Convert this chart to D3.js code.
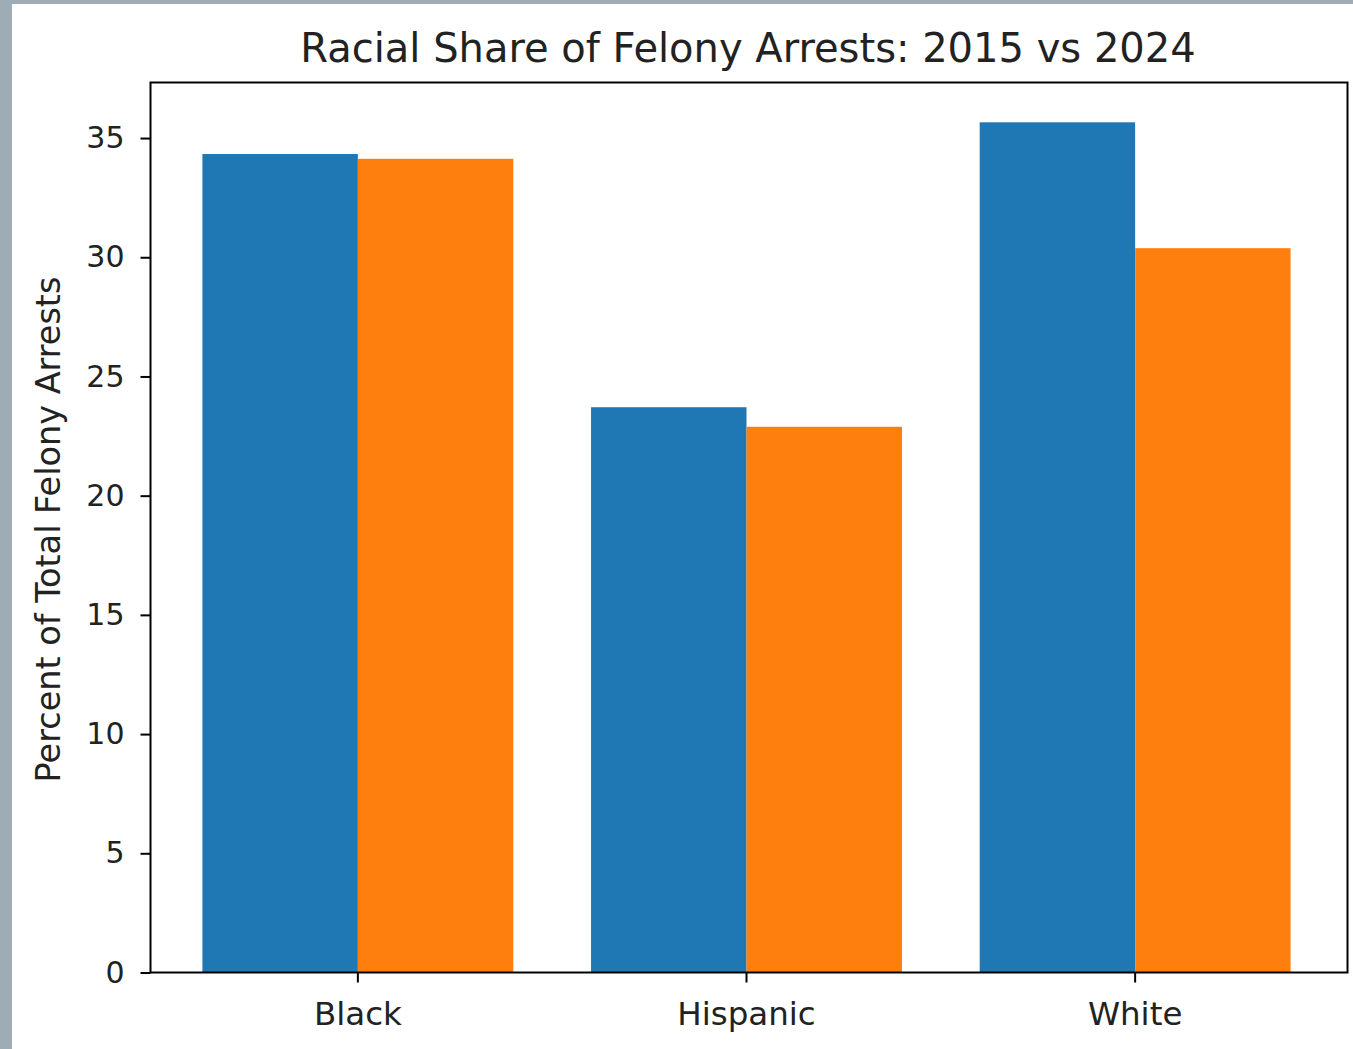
<!DOCTYPE html>
<html>
<head>
<meta charset="utf-8">
<script src="https://cdn.jsdelivr.net/npm/d3@7"></script>
<style>
  html, body { margin: 0; padding: 0; background: #9eadb5; }
  svg { display: block; }
</style>
</head>
<body>
<script>
const categories = ["Black", "Hispanic", "White"];
const seriesNames = ["2015", "2024"];
const values2015 = [34.33, 23.71, 35.66];
const values2024 = [34.13, 22.89, 30.38];
const yTicks = [0, 5, 10, 15, 20, 25, 30, 35];
const colors = ["#1f77b4", "#ff7f0e"];
const titleText = "Racial Share of Felony Arrests: 2015 vs 2024";
const yLabelText = "Percent of Total Felony Arrests";

const W = 1353, H = 1049;
const svg = d3.select("body").append("svg").attr("width", W).attr("height", H);

// white figure area (gray frame visible on left & top)
svg.append("rect").attr("x", 12).attr("y", 4).attr("width", W - 12).attr("height", H - 4).attr("fill", "#ffffff");

const plot = { left: 150.5, right: 1347.5, top: 82.5, bottom: 972.5 };

const x = d3.scaleBand().domain(categories).range([148, 1345])
  .paddingInner(0.2).paddingOuter(0.14);
const xSub = d3.scaleBand().domain(seriesNames).range([0, x.bandwidth()]);
const y = d3.scaleLinear().domain([0, 37.33]).range([plot.bottom, plot.top]);

const series = [values2015, values2024];
const font = "DejaVu Sans, sans-serif";

// bars
series.forEach((vals, si) => {
  svg.append("g").selectAll("rect").data(categories).join("rect")
    .attr("x", d => x(d) + xSub(seriesNames[si]))
    .attr("width", xSub.bandwidth())
    .attr("y", (d, i) => y(vals[i]))
    .attr("height", (d, i) => y(0) - y(vals[i]))
    .attr("fill", colors[si]);
});

// y axis
const yAxis = d3.axisLeft(y).tickValues(yTicks).tickSize(10).tickPadding(16).tickFormat(d3.format("d"));
const gy = svg.append("g").attr("transform", `translate(${plot.left},0)`).call(yAxis);
gy.select(".domain").remove();
gy.selectAll("line").attr("stroke", "#000").attr("stroke-width", 2);
gy.selectAll("text").attr("font-family", font).attr("font-size", 30).attr("fill", "#222");

// x axis
const xAxis = d3.axisBottom(x).tickSize(10).tickPadding(19);
const gx = svg.append("g").attr("transform", `translate(0,${plot.bottom})`).call(xAxis);
gx.select(".domain").remove();
gx.selectAll("line").attr("stroke", "#000").attr("stroke-width", 2);
gx.selectAll("text").attr("font-family", font).attr("font-size", 32.5).attr("fill", "#222");

// frame
svg.append("rect")
  .attr("x", plot.left).attr("y", plot.top)
  .attr("width", plot.right - plot.left).attr("height", plot.bottom - plot.top)
  .attr("fill", "none").attr("stroke", "#000").attr("stroke-width", 2);

// title
svg.append("text")
  .attr("x", 748).attr("y", 62)
  .attr("text-anchor", "middle")
  .attr("font-family", font).attr("font-size", 40).attr("fill", "#222")
  .text(titleText);

// y label
svg.append("text")
  .attr("transform", `translate(60,${(plot.top + plot.bottom) / 2 + 2}) rotate(-90)`)
  .attr("text-anchor", "middle")
  .attr("font-family", font).attr("font-size", 33.5).attr("fill", "#222")
  .text(yLabelText);
</script>
</body>
</html>
